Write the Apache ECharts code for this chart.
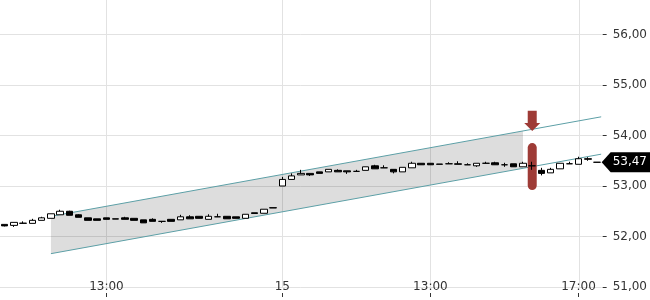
<!DOCTYPE html>
<html><head><meta charset="utf-8">
<script src="https://cdn.jsdelivr.net/npm/echarts@6/dist/echarts.min.js"></script>
<style>html,body{margin:0;padding:0;background:#fff}#c{width:650px;height:300px}</style>
</head><body><div id="c"></div>
<script>
// candles: [open, close, low, high]
const ohlc = [
  [52.24, 52.21, 52.20, 52.24],
  [52.22, 52.28, 52.19, 52.28],
  [52.26, 52.265, 52.26, 52.30],
  [52.26, 52.32, 52.26, 52.35],
  [52.32, 52.37, 52.32, 52.39],
  [52.36, 52.45, 52.36, 52.45],
  [52.43, 52.50, 52.43, 52.53],
  [52.50, 52.42, 52.42, 52.51],
  [52.43, 52.38, 52.38, 52.44],
  [52.37, 52.32, 52.32, 52.37],
  [52.35, 52.32, 52.32, 52.35],
  [52.37, 52.34, 52.34, 52.37],
  [52.35, 52.345, 52.345, 52.35],
  [52.37, 52.34, 52.34, 52.39],
  [52.36, 52.32, 52.32, 52.36],
  [52.33, 52.27, 52.27, 52.33],
  [52.34, 52.30, 52.30, 52.36],
  [52.30, 52.30, 52.27, 52.30],
  [52.34, 52.30, 52.30, 52.34],
  [52.33, 52.39, 52.33, 52.43],
  [52.39, 52.35, 52.35, 52.42],
  [52.40, 52.36, 52.36, 52.40],
  [52.34, 52.40, 52.34, 52.44],
  [52.39, 52.39, 52.39, 52.45],
  [52.40, 52.35, 52.35, 52.40],
  [52.39, 52.36, 52.36, 52.39],
  [52.36, 52.44, 52.36, 52.44],
  [52.47, 52.455, 52.455, 52.47],
  [52.46, 52.54, 52.46, 52.54],
  [52.57, 52.565, 52.565, 52.57],
  [53.00, 53.13, 53.00, 53.18],
  [53.13, 53.20, 53.13, 53.25],
  [53.22, 53.25, 53.22, 53.32],
  [53.25, 53.22, 53.20, 53.25],
  [53.28, 53.25, 53.25, 53.28],
  [53.28, 53.33, 53.28, 53.33],
  [53.31, 53.28, 53.28, 53.33],
  [53.30, 53.28, 53.24, 53.30],
  [53.29, 53.29, 53.29, 53.32],
  [53.31, 53.38, 53.31, 53.38],
  [53.40, 53.34, 53.34, 53.42],
  [53.36, 53.36, 53.36, 53.41],
  [53.33, 53.28, 53.25, 53.33],
  [53.28, 53.37, 53.28, 53.37],
  [53.36, 53.45, 53.36, 53.48],
  [53.45, 53.42, 53.42, 53.45],
  [53.45, 53.42, 53.42, 53.45],
  [53.435, 53.43, 53.43, 53.435],
  [53.44, 53.44, 53.44, 53.47],
  [53.44, 53.43, 53.43, 53.49],
  [53.42, 53.42, 53.42, 53.45],
  [53.40, 53.45, 53.38, 53.45],
  [53.45, 53.45, 53.45, 53.48],
  [53.46, 53.42, 53.42, 53.48],
  [53.42, 53.42, 53.38, 53.46],
  [53.44, 53.38, 53.38, 53.44],
  [53.38, 53.45, 53.38, 53.48],
  [53.40, 53.40, 53.32, 53.48],
  [53.31, 53.25, 53.21, 53.36],
  [53.26, 53.33, 53.26, 53.36],
  [53.34, 53.45, 53.34, 53.45],
  [53.44, 53.44, 53.44, 53.48],
  [53.43, 53.54, 53.43, 53.58],
  [53.54, 53.53, 53.50, 53.57],
  [53.47, 53.47, 53.47, 53.47]
];
const tickIndices = [11, 30, 46, 62];
const tickLabels = ['13:00', '15', '13:00', '17:00'];
const yMin = 51, yMax = 56, yStep = 1;
// trend channel anchors: [index, price]
const channelUpper = [[5, 52.40], [64.45, 54.37]];
const channelLower = [[5, 51.66], [64.45, 53.63]];
const shadeEnd = 56;
// signal marker
const signalIndex = 57;
const signalBar = [52.92, 53.85];     // bottom, top
const signalArrow = [54.49, 54.09];   // top, tip
const lastPrice = 53.47;

const categories = ohlc.map((d, i) => String(i));
const fmt = v => Number(v).toFixed(2).replace('.', ',');
const FONT = 'DejaVu Sans';
const RED = '#9e3b36';
const interp = (line, x) => line[0][1] + (line[1][1] - line[0][1]) * (x - line[0][0]) / (line[1][0] - line[0][0]);

const chart = echarts.init(document.getElementById('c'), null, {renderer: 'canvas'});
chart.setOption({
  animation: false,
  grid: {left: -0.6, right: 48.3, top: 34.5, bottom: 13},
  xAxis: [
    {
      type: 'category', data: categories, boundaryGap: true, offset: 6,
      axisLine: {show: false, onZero: false},
      axisTick: {show: true, alignWithLabel: true, length: 4, interval: i => tickIndices.includes(i), lineStyle: {color: '#333'}},
      axisLabel: {
        interval: i => tickIndices.includes(i),
        formatter: (v, i) => { const k = tickIndices.indexOf(i); return k >= 0 ? tickLabels[k] : ''; },
        margin: -6, verticalAlign: 'middle', color: '#333', fontSize: 12, fontFamily: FONT
      },
      splitLine: {show: false}
    },
    {type: 'value', min: -0.5, max: ohlc.length - 0.5, show: false}
  ],
  yAxis: {
    type: 'value', position: 'right', min: yMin, max: yMax, interval: yStep, offset: 1,
    axisLine: {show: false, onZero: false},
    axisTick: {show: true, length: 4, lineStyle: {color: '#333'}},
    axisLabel: {margin: 10, formatter: fmt, color: '#333', fontSize: 12, fontFamily: FONT},
    splitLine: {lineStyle: {color: '#e2e2e2'}}
  },
  series: [
    {
      type: 'custom', xAxisIndex: 0, yAxisIndex: 0, z: 0, silent: true,
      data: tickIndices.map(i => [i, yMin]),
      renderItem: (params, api) => {
        const p = api.coord([api.value(0), yMin]);
        const x = Math.round(p[0]) + 0.5;
        return {type: 'line', shape: {x1: x, y1: 0, x2: x, y2: params.coordSys.y + params.coordSys.height},
          style: {stroke: '#e2e2e2', lineWidth: 1}};
      }
    },
    {
      type: 'custom', xAxisIndex: 1, yAxisIndex: 0, z: 1, silent: true, data: [[0, 0]],
      renderItem: (params, api) => {
        const x0 = channelUpper[0][0], x1 = shadeEnd;
        const pts = [
          api.coord([x0, interp(channelUpper, x0)]),
          api.coord([x1, interp(channelUpper, x1)]),
          api.coord([x1, interp(channelLower, x1)]),
          api.coord([x0, interp(channelLower, x0)])
        ];
        return {type: 'polygon', shape: {points: pts}, style: {fill: 'rgba(0,0,0,0.135)'}};
      }
    },
    {type: 'line', xAxisIndex: 1, yAxisIndex: 0, z: 2, data: channelUpper, symbol: 'none', silent: true,
      lineStyle: {color: '#5c9fa6', width: 1}},
    {type: 'line', xAxisIndex: 1, yAxisIndex: 0, z: 2, data: channelLower, symbol: 'none', silent: true,
      lineStyle: {color: '#5c9fa6', width: 1}},
    {
      type: 'custom', xAxisIndex: 0, yAxisIndex: 0, z: 3, silent: true, data: [[signalIndex, lastPrice]],
      renderItem: (params, api) => {
        const x = api.coord([signalIndex, signalBar[0]])[0];
        const yb1 = api.coord([signalIndex, signalBar[0]])[1];
        const yb0 = api.coord([signalIndex, signalBar[1]])[1];
        const ya0 = api.coord([signalIndex, signalArrow[0]])[1];
        const ya1 = api.coord([signalIndex, signalArrow[1]])[1];
        const hs = ya1 - 8;
        return {type: 'group', children: [
          {type: 'rect', shape: {x: x - 4.5, y: yb0, width: 9, height: yb1 - yb0, r: 4.5}, style: {fill: RED}},
          {type: 'polygon', shape: {points: [[x - 4.5, ya0], [x + 4.5, ya0], [x + 4.5, hs], [x + 8, hs], [x, ya1], [x - 8, hs], [x - 4.5, hs]]}, style: {fill: RED}}
        ]};
      }
    },
    {
      type: 'candlestick', xAxisIndex: 0, yAxisIndex: 0, z: 5, data: ohlc, barWidth: 7,
      itemStyle: {color: '#fff', color0: '#000', borderColor: '#000', borderColor0: '#000', borderColorDoji: '#000', borderWidth: 1}
    },
    {
      type: 'custom', xAxisIndex: 0, yAxisIndex: 0, z: 6, silent: true, clip: false, data: [[ohlc.length - 1, lastPrice]],
      renderItem: (params, api) => {
        const y = api.coord([0, lastPrice])[1];
        const xr = params.coordSys.x + params.coordSys.width;
        const W = api.getWidth();
        return {type: 'group', children: [
          {type: 'polygon', shape: {points: [[xr, y], [xr + 9, y - 10], [W, y - 10], [W, y + 10], [xr + 9, y + 10]]}, style: {fill: '#000'}},
          {type: 'text', style: {x: xr + 11, y: y, text: fmt(lastPrice), fill: '#fff', font: '12px "DejaVu Sans"', textAlign: 'left', textVerticalAlign: 'middle'}}
        ]};
      }
    }
  ]
});
</script>
</body></html>
